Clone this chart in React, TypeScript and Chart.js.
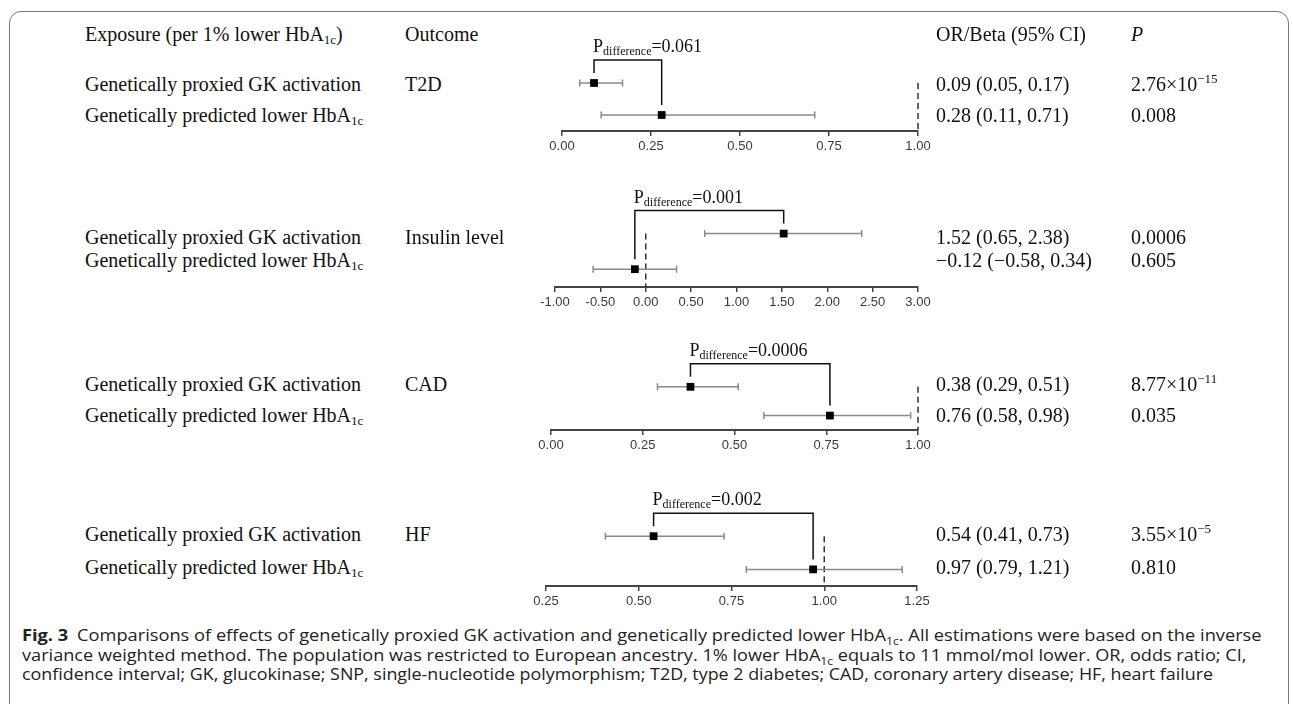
import React, { useEffect, useLayoutEffect, useRef } from "react";
import { Chart, registerables } from "chart.js";

Chart.register(...registerables);

// ---------------- data ----------------
const outcomes = ["T2D", "Insulin level", "CAD", "HF"];
const gkEst = [0.09, 1.52, 0.38, 0.54];
const gkLow = [0.05, 0.65, 0.29, 0.41];
const gkHigh = [0.17, 2.38, 0.51, 0.73];
const hbEst = [0.28, -0.12, 0.76, 0.97];
const hbLow = [0.11, -0.58, 0.58, 0.79];
const hbHigh = [0.71, 0.34, 0.98, 1.21];
const gkP = ["2.76×10^−15", "0.0006", "8.77×10^−11", "3.55×10^−5"];
const hbP = ["0.008", "0.605", "0.035", "0.810"];
const pDifference = ["0.061", "0.001", "0.0006", "0.002"];
const refValue = [1, 0, 1, 1];
const axisMin = [0, -1, 0, 0.25];
const axisMax = [1, 3, 1, 1.25];
const axisStep = [0.25, 0.5, 0.25, 0.25];

// ---------------- layout / style ----------------
const SERIF = '"Liberation Serif", "Times New Roman", serif';
const SANS = '"Liberation Sans", Arial, sans-serif';
const CAPTION_FONT = '"Open Sans", "Noto Sans", sans-serif';
const GRAY = "#8a8a8a";
const CANVAS_LEFT = 500;
const CANVAS_RIGHT = 960;
const TOP_PAD = 45;
const AXIS_H = 30;
const PANEL = [
  { left: 562, right: 918, top: 51, bottom: 131 },
  { left: 555, right: 918, top: 198, bottom: 287 },
  { left: 551, right: 918, top: 358, bottom: 430 },
  { left: 546, right: 917, top: 503, bottom: 586 },
];
const ROW_Y = [
  [84, 115],
  [237, 260],
  [384, 415],
  [534, 567],
];
const HEADER_Y = 34;
const COL_EXPO = 85;
const COL_OUT = 405;
const COL_OR = 936;
const COL_P = 1131;

const fmt = (v: number) => v.toFixed(2).replace("-", "−");

const pdiffPlugin = {
  id: "pdiff",
  afterDatasetsDraw(chart: any, _args: any, opts: any) {
    const { ctx } = chart;
    const xs = chart.scales.x;
    const ys = chart.scales.y;
    const x1 = xs.getPixelForValue(opts.gk);
    const y1 = ys.getPixelForValue(1);
    const x2 = xs.getPixelForValue(opts.hb);
    const y2 = ys.getPixelForValue(2);
    const top = y1 - 23;
    ctx.save();
    ctx.strokeStyle = "#111";
    ctx.lineWidth = 1.5;
    ctx.beginPath();
    ctx.moveTo(x1, y1 - 10);
    ctx.lineTo(x1, top);
    ctx.lineTo(x2, top);
    ctx.lineTo(x2, y2 - 10);
    ctx.stroke();
    let tx = Math.min(x1, x2) - 1;
    const base = top - 8;
    ctx.fillStyle = "#111";
    ctx.textBaseline = "alphabetic";
    ctx.textAlign = "left";
    ctx.font = `18px ${SERIF}`;
    ctx.fillText("P", tx, base);
    tx += ctx.measureText("P").width;
    ctx.font = `12px ${SERIF}`;
    ctx.fillText("difference", tx, base + 3);
    tx += ctx.measureText("difference").width;
    ctx.font = `18px ${SERIF}`;
    ctx.fillText("=" + opts.label, tx, base);
    ctx.restore();
  },
};

function Panel({ i }: { i: number }) {
  const ref = useRef<HTMLCanvasElement | null>(null);
  const L = PANEL[i];
  const h = TOP_PAD + (L.bottom - L.top) + AXIS_H;
  useEffect(() => {
    const errDs = (lo: number, hi: number, y: number) => ({
      type: "line",
      data: [
        { x: lo, y },
        { x: hi, y },
      ],
      borderColor: GRAY,
      borderWidth: 1.5,
      pointStyle: "line",
      pointRotation: 90,
      pointRadius: 3.5,
      pointBorderColor: GRAY,
      pointBorderWidth: 1.5,
      pointBackgroundColor: GRAY,
      fill: false,
      clip: false,
      order: 1,
    });
    const chart = new Chart(ref.current as HTMLCanvasElement, {
      type: "scatter",
      data: {
        datasets: [
          {
            type: "scatter",
            data: [
              { x: gkEst[i], y: 1 },
              { x: hbEst[i], y: 2 },
            ],
            pointStyle: "rect",
            pointRadius: 5.5,
            backgroundColor: "#000",
            borderColor: "#000",
            borderWidth: 0,
            clip: false,
            order: 0,
          } as any,
          errDs(gkLow[i], gkHigh[i], 1) as any,
          errDs(hbLow[i], hbHigh[i], 2) as any,
          {
            type: "line",
            data: [
              { x: refValue[i], y: 1 },
              { x: refValue[i], y: 2.5 },
            ],
            borderColor: "#333",
            borderWidth: 1.5,
            borderDash: [6, 4],
            pointRadius: 0,
            fill: false,
            clip: false,
            order: 2,
          } as any,
        ],
      },
      options: {
        responsive: false,
        animation: false,
        events: [],
        layout: {
          padding: {
            left: L.left - CANVAS_LEFT,
            right: CANVAS_RIGHT - L.right,
            top: TOP_PAD,
            bottom: 0,
          },
        },
        plugins: {
          legend: { display: false },
          tooltip: { enabled: false },
          pdiff: { gk: gkEst[i], hb: hbEst[i], label: pDifference[i] },
        } as any,
        scales: {
          x: {
            type: "linear",
            min: axisMin[i],
            max: axisMax[i],
            ticks: {
              stepSize: axisStep[i],
              callback: (v: any) => Number(v).toFixed(2),
              color: "#3a3a3a",
              font: { family: SANS, size: 13 },
              padding: 3,
              maxRotation: 0,
              autoSkip: false,
            },
            grid: {
              drawOnChartArea: false,
              drawTicks: true,
              tickLength: 5,
              color: "#444",
              lineWidth: 1.5,
            },
            border: { display: true, color: "#444", width: 2 },
            afterFit: (s: any) => {
              s.height = AXIS_H;
            },
          },
          y: { type: "linear", display: false, min: 0, max: 2.5, reverse: true },
        },
      },
      plugins: [pdiffPlugin],
    } as any);
    return () => chart.destroy();
  }, [i]);
  return (
    <canvas
      ref={ref}
      width={CANVAS_RIGHT - CANVAS_LEFT}
      height={h}
      style={{
        position: "absolute",
        left: CANVAS_LEFT,
        top: L.top - TOP_PAD,
        width: CANVAS_RIGHT - CANVAS_LEFT,
        height: h,
      }}
    />
  );
}

const Sub = ({ children }: any) => (
  <span style={{ fontSize: 13, position: "relative", top: 3 }}>{children}</span>
);
const Sup = ({ children }: any) => (
  <span style={{ fontSize: 13, position: "relative", top: -8 }}>{children}</span>
);
const HbA = () => (
  <>
    HbA<Sub>1c</Sub>
  </>
);

function PText({ s }: { s: string }) {
  const parts = s.split("^");
  return (
    <>
      {parts[0]}
      {parts[1] ? <Sup>{parts[1]}</Sup> : null}
    </>
  );
}

function T({ x, y, children, italic }: any) {
  return (
    <div
      style={{
        position: "absolute",
        left: x,
        top: y - 12,
        height: 24,
        lineHeight: "24px",
        fontFamily: SERIF,
        fontSize: 20,
        color: "#111",
        whiteSpace: "nowrap",
        fontStyle: italic ? "italic" : "normal",
        zIndex: 2,
      }}
    >
      {children}
    </div>
  );
}

const CAPTION_WIDTHS = [1240, 1225, 1191];

function CaptionLine({ idx, children }: any) {
  const ref = useRef<HTMLDivElement | null>(null);
  useLayoutEffect(() => {
    const el = ref.current;
    if (!el) return;
    el.style.transform = "none";
    const w = el.scrollWidth;
    if (w > 0) el.style.transform = `scaleX(${CAPTION_WIDTHS[idx] / w})`;
  }, [idx]);
  return (
    <div
      ref={ref}
      style={{
        position: "absolute",
        left: 22,
        top: 625 + idx * 19.5,
        height: 20,
        lineHeight: "20px",
        whiteSpace: "nowrap",
        fontFamily: CAPTION_FONT,
        fontSize: 16.5,
        color: "#222",
        transformOrigin: "0 0",
        display: "inline-block",
      }}
    >
      {children}
    </div>
  );
}

const CSub = ({ children }: any) => (
  <span style={{ fontSize: 11, position: "relative", top: 4 }}>{children}</span>
);

export default function App() {
  return (
    <div
      style={{
        position: "fixed",
        left: 0,
        top: 0,
        width: 1293,
        height: 704,
        background: "#fff",
        overflow: "hidden",
      }}
    >
      <div
        style={{
          position: "absolute",
          left: 9,
          top: 11,
          width: 1280,
          height: 760,
          border: "1px solid #777",
          borderRadius: 12,
          boxSizing: "border-box",
        }}
      />
      {/* header */}
      <T x={COL_EXPO} y={HEADER_Y}>
        Exposure (per 1% lower <HbA />)
      </T>
      <T x={COL_OUT} y={HEADER_Y}>
        Outcome
      </T>
      <T x={COL_OR} y={HEADER_Y}>
        OR/Beta (95% CI)
      </T>
      <T x={COL_P} y={HEADER_Y} italic>
        P
      </T>
      {outcomes.map((o, i) => (
        <React.Fragment key={o}>
          <T x={COL_EXPO} y={ROW_Y[i][0]}>
            Genetically proxied GK activation
          </T>
          <T x={COL_EXPO} y={ROW_Y[i][1]}>
            Genetically predicted lower <HbA />
          </T>
          <T x={COL_OUT} y={ROW_Y[i][0]}>
            {o}
          </T>
          <T x={COL_OR} y={ROW_Y[i][0]}>
            {`${fmt(gkEst[i])} (${fmt(gkLow[i])}, ${fmt(gkHigh[i])})`}
          </T>
          <T x={COL_OR} y={ROW_Y[i][1]}>
            {`${fmt(hbEst[i])} (${fmt(hbLow[i])}, ${fmt(hbHigh[i])})`}
          </T>
          <T x={COL_P} y={ROW_Y[i][0]}>
            <PText s={gkP[i]} />
          </T>
          <T x={COL_P} y={ROW_Y[i][1]}>
            <PText s={hbP[i]} />
          </T>
          <Panel i={i} />
        </React.Fragment>
      ))}
      <CaptionLine idx={0}>
        <b style={{ marginRight: 8 }}>Fig. 3</b>Comparisons of effects of genetically proxied GK activation and
        genetically predicted lower HbA<CSub>1c</CSub>. All estimations were based on the inverse
      </CaptionLine>
      <CaptionLine idx={1}>
        variance weighted method. The population was restricted to European ancestry. 1% lower HbA
        <CSub>1c</CSub> equals to 11 mmol/mol lower. OR, odds ratio; CI,
      </CaptionLine>
      <CaptionLine idx={2}>
        confidence interval; GK, glucokinase; SNP, single-nucleotide polymorphism; T2D, type 2 diabetes;
        CAD, coronary artery disease; HF, heart failure
      </CaptionLine>
    </div>
  );
}
